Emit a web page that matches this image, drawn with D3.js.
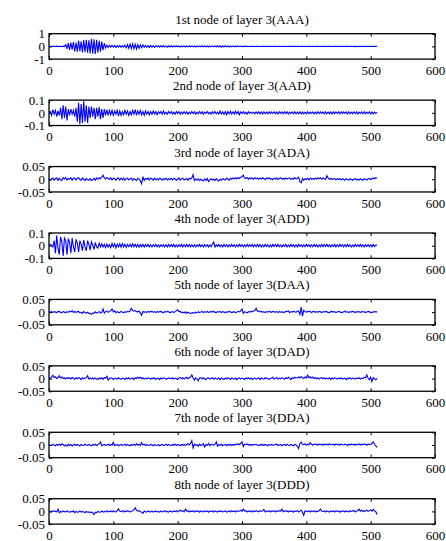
<!DOCTYPE html>
<html>
<head>
<meta charset="utf-8">
<script src="https://cdn.jsdelivr.net/npm/d3@7"></script>
<style>
  body { margin: 0; background: #fff; }
  svg { display: block; font-family: 'Liberation Serif', 'Times New Roman', serif; }
  .tick text { font-family: 'Liberation Serif', 'Times New Roman', serif; font-size: 13px; fill: #000; }
  .tick line { stroke: #000; }
  .domain { display: none; }
</style>
</head>
<body>
<div id="chart"></div>
<script>
// Panel titles
const titles = [
  '1st node of layer 3(AAA)', '2nd node of layer 3(AAD)',
  '3rd node of layer 3(ADA)', '4th node of layer 3(ADD)',
  '5th node of layer 3(DAA)', '6th node of layer 3(DAD)',
  '7th node of layer 3(DDA)', '8th node of layer 3(DDD)'
]

// Tick values and labels
const xTicks = [0, 100, 200, 300, 400, 500, 600]
const yTicks = [
  [-1, 0, 1], [-0.1, 0, 0.1], [-0.05, 0, 0.05], [-0.1, 0, 0.1],
  [-0.05, 0, 0.05], [-0.05, 0, 0.05], [-0.05, 0, 0.05], [-0.05, 0, 0.05]
]
const yTickLabels = [
  ['-1', '0', '1'], ['-0.1', '0', '0.1'], ['-0.05', '0', '0.05'], ['-0.1', '0', '0.1'],
  ['-0.05', '0', '0.05'], ['-0.05', '0', '0.05'], ['-0.05', '0', '0.05'], ['-0.05', '0', '0.05']
]

// Coefficients, read every 2nd sample (sample 0..510)
const sampleStep = 2

const aaa = [
  0,.01,-.01,0,.01,-.01,.02,-.01,0,.01,-.02,.02,-.01,.15,-.2,.25,
  -.28,.3,-.25,.35,-.4,.3,-.42,.45,-.38,.4,-.48,.5,-.45,.52,-.5,.48,
  -.55,.6,-.58,.55,-.6,.52,-.5,.45,-.42,.38,-.3,.25,-.12,.1,-.08,.07,
  -.06,.08,-.05,.07,-.09,.06,-.05,.08,-.07,.06,-.05,.1,-.12,.14,-.15,.18,
  -.16,.2,-.18,.17,-.2,.15,-.16,.12,-.1,.12,-.08,.09,-.07,.06,-.08,.07,
  -.06,.05,-.07,.06,-.05,.07,-.06,.05,-.04,.06,-.05,.04,-.06,.05,-.04,.05,
  -.05,.04,-.03,.05,-.04,.03,-.05,.04,-.03,.04,-.05,.03,-.04,.05,-.03,.04,
  -.04,.03,-.05,.04,-.03,.04,-.03,.05,-.04,.03,-.04,.03,-.05,.04,-.03,.04,
  -.03,.04,-.05,.06,-.04,.05,-.06,.04,-.05,.06,-.04,.03,-.05,.04,-.03,.04,
  -.04,.03,-.03,.04,-.02,.03,-.02,.02,-.01,.02,-.01,.01,-.02,.01,0,.01,
  -.01,.01,0,-.01,.01,-.01,0,.01,-.01,0,.01,-.01,.01,0,-.01,.01,
  0,-.01,.01,0,-.01,.01,-.01,0,.01,-.01,0,.01,0,-.01,.01,0,
  -.01,.01,0,-.01,.01,0,-.01,.01,-.01,0,.01,0,-.01,.01,0,-.01,
  .01,0,-.01,.01,-.01,0,.01,0,-.01,.01,0,-.01,.01,-.01,0,.01,
  -.01,0,.01,-.01,0,.01,-.01,.01,0,-.01,.01,0,-.01,.01,-.03,.03,
  -.02,.01,0,-.01,.01,0,-.01,.01,0,-.01,.01,0,-.01,.01,0,.01
]

const aad = [
  .005,.01,-.02,.025,-.01,.02,-.03,.015,-.02,.04,-.05,.06,-.04,.05,-.06,.03,
  -.02,.03,-.01,.02,-.03,.04,-.07,.08,-.09,.07,-.08,.09,-.07,.06,-.08,.05,
  -.04,.05,-.03,.04,-.05,.04,-.03,.045,-.05,.03,-.04,.03,-.02,.025,-.02,.02,
  -.015,.02,-.02,.015,-.01,.02,-.025,.015,-.02,.01,-.015,.02,-.01,.015,-.02,.01,
  -.015,.02,-.01,.025,-.02,.015,-.01,.02,-.015,.01,-.02,.015,-.01,.01,-.015,.01,
  -.01,.015,-.01,.01,-.015,.01,-.005,.01,-.01,.015,-.01,.005,-.01,.01,-.005,.01,
  -.01,.005,-.01,.01,-.005,.01,-.01,.005,-.008,.01,-.005,.008,-.01,.005,-.008,.01,
  -.005,.008,-.01,.005,-.008,.01,-.005,.008,-.01,.005,-.005,.01,-.008,.005,-.01,.008,
  -.005,.01,-.008,.005,-.01,.015,-.01,.008,-.012,.01,-.015,.01,-.008,.012,-.01,.008,
  -.01,.012,-.008,.01,-.015,.008,-.005,.01,-.008,.005,-.01,.008,-.005,.006,-.004,.005,
  -.007,.008,-.005,.009,-.008,.006,-.009,.008,-.006,.005,-.008,.009,-.006,.008,-.005,.007,
  -.008,.006,-.009,.008,-.005,.007,-.008,.009,-.006,.008,-.009,.006,-.005,.008,-.007,.009,
  -.008,.005,-.007,.008,-.009,.006,-.008,.005,-.007,.009,-.008,.006,-.005,.008,-.007,.005,
  -.008,.009,-.006,.008,-.005,.007,-.009,.008,-.006,.005,-.008,.007,-.009,.008,-.006,.008,
  -.005,.007,-.008,.009,-.006,.008,-.005,.007,-.009,.008,-.006,.005,-.008,.009,-.006,.008,
  -.009,.006,-.005,.008,-.007,.009,-.008,.006,-.005,.008,-.009,.006,-.008,.005,-.006,.003
]

const ada = [
  .003,-.004,.001,.005,-.003,.002,.006,-.004,.004,-.002,-.005,.006,.001,.007,-.003,.004,
  0,.006,-.004,.003,.005,-.003,.004,.006,-.001,-.004,.005,0,-.005,.003,-.002,-.004,
  .002,-.005,-.002,.004,-.004,.005,0,.006,.002,.008,.016,.005,.001,.007,.003,-.001,
  .006,-.003,.004,.002,-.004,.003,.005,-.003,.004,-.002,.005,-.004,.002,.004,-.003,.002,
  .004,-.004,.002,-.001,-.005,.003,.001,-.006,-.018,.010,-.005,.003,-.001,.005,-.003,.004,
  .002,-.004,.004,-.002,.003,-.003,.004,.001,-.004,.003,-.001,.004,-.003,.002,-.001,.004,
  -.003,.004,.001,-.004,0,.005,-.003,.002,.004,-.003,0,.003,-.004,.004,.001,.005,
  .018,-.005,.001,-.004,.002,-.005,0,-.004,-.006,.001,-.005,.003,-.009,-.002,.002,-.004,
  .001,-.005,.002,-.004,-.007,0,-.004,.003,-.001,-.003,.005,.001,-.004,.004,.001,.005,
  .002,.006,.001,.007,.003,.008,.010,.016,.005,.003,.007,0,.006,.002,.005,0,
  .006,.002,.005,-.001,.005,.001,.006,.002,-.001,.005,.002,.006,0,.003,-.002,.004,
  .001,.005,-.001,.003,.006,0,.004,-.001,.005,.001,.004,.005,-.001,.003,.001,.006,
  .002,.004,.008,-.010,-.014,.003,-.004,.002,-.001,.004,-.002,.005,0,.003,-.001,.005,
  .001,.005,.002,.006,0,.005,.002,-.001,.014,.004,0,.003,-.001,.002,.003,-.002,
  .002,-.001,.003,-.003,.002,-.001,-.004,.002,-.001,-.003,.002,-.001,-.004,0,.002,-.003,
  0,-.003,.002,-.001,-.004,.002,0,-.003,.002,.003,-.001,.002,.005,.002,.006,.004
]

const add = [
  .005,.01,.005,-.01,.04,-.06,.08,-.02,-.07,.07,.03,-.08,.06,.04,-.07,.05,
  .03,-.06,.06,-.01,-.05,.05,.02,-.05,.04,.01,-.04,.045,-.01,-.04,.04,.01,
  -.035,.03,.005,-.03,.025,-.01,-.02,.02,-.01,.015,-.01,.01,-.015,.012,-.01,.008,
  -.015,.018,-.008,.016,-.018,.012,-.01,.015,-.012,.016,-.01,.012,-.015,.01,-.008,.012,
  -.01,.014,-.008,.012,-.01,.009,-.012,.01,-.007,.01,-.011,.008,-.007,.01,-.009,.007,
  -.01,.008,-.007,.011,-.009,.007,-.01,.008,-.006,.009,-.01,.007,-.009,.01,-.007,.009,
  -.007,.01,-.009,.006,-.01,.008,-.006,.01,-.009,.007,-.008,.01,-.007,.009,-.01,.007,
  -.009,.007,-.01,.008,-.006,.01,-.008,.007,-.01,.009,-.006,.008,-.01,.007,-.008,.012,
  .03,-.01,.008,-.007,.01,-.008,.006,-.009,.01,-.007,.008,-.01,.007,-.008,.01,-.006,
  .008,-.01,.007,-.008,.01,-.006,.009,-.01,.007,-.008,.01,-.007,.008,-.006,.01,-.009,
  .007,-.008,.01,-.007,.009,-.01,.006,-.008,.01,-.007,.008,-.01,.007,-.009,.01,-.006,
  .009,-.007,.01,-.008,.006,-.01,.008,-.007,.01,-.009,.006,-.008,.01,-.007,.008,-.01,
  .007,-.009,.01,-.006,.008,-.01,.007,-.008,.01,-.006,.009,-.01,.007,-.008,.01,-.007,
  .008,-.01,.006,-.008,.01,-.007,.009,-.006,.01,-.008,.007,-.01,.008,-.006,.01,-.009,
  .007,-.008,.01,-.006,.009,-.01,.007,-.008,.01,-.007,.008,-.01,.006,-.008,.01,-.007,
  .008,-.006,.01,-.008,.007,-.01,.008,-.006,.009,-.008,.007,-.009,.01,-.007,.005,.003
]

const daa = [
  .002,-.001,.003,-.002,.002,0,-.002,.002,.003,-.001,-.002,.002,0,-.003,.002,-.001,
  .004,.001,.006,-.001,.003,-.002,.002,.003,-.003,0,-.005,.002,-.002,-.004,0,-.005,
  -.006,-.009,-.003,-.005,.001,-.004,-.001,.002,-.003,-.002,.012,-.004,.002,.004,-.001,.003,
  .006,.012,.001,.005,-.002,.002,-.001,-.002,.003,0,-.003,.002,-.001,.003,.001,.005,
  .015,.007,.004,.006,.002,.001,.004,-.004,-.012,.003,-.001,.002,-.002,.003,0,.002,
  .003,-.001,.002,-.002,.003,-.001,.002,.003,-.001,-.002,.002,0,.003,.001,-.002,0,
  .002,-.002,.003,.005,.009,.002,.003,-.002,0,-.004,.001,-.005,0,-.002,-.006,-.003,
  -.002,-.005,0,-.003,.002,-.002,0,.003,-.002,.002,-.001,.003,-.002,.002,0,.002,
  .003,-.001,-.002,.002,0,.003,-.002,.002,0,-.003,.002,-.001,.003,.001,-.002,0,
  .002,-.003,0,.003,.001,.005,.012,-.005,.002,-.001,-.003,.002,0,.003,.001,.005,
  .006,.015,.003,.005,.001,.003,-.001,.002,-.002,.002,0,.003,.001,-.001,.003,.001,
  0,.002,-.002,.003,-.001,.002,-.002,0,.002,.003,.005,-.002,.002,0,.003,.001,
  0,.003,.005,-.009,.020,-.016,.007,.003,-.001,.004,.001,.003,-.002,.002,.003,-.001,
  .002,-.001,.003,.001,-.002,.002,0,.003,.001,-.001,-.002,.002,.003,0,.002,-.002,
  0,.003,.001,-.001,-.002,.002,.005,-.001,.002,-.002,.002,0,.003,.001,-.002,.002,
  0,.002,-.002,.003,0,.002,-.002,0,.003,.001,-.001,-.002,.002,0,.002,0
]

const dad = [
  .003,.001,.006,.013,.004,.007,0,.004,.011,.002,.006,0,.003,-.002,.004,0,
  .003,-.002,.004,.001,-.003,.003,-.001,.004,.001,-.004,.003,-.001,.002,.003,.011,-.002,
  .002,-.002,.003,-.003,.002,-.001,-.004,.002,-.001,.003,-.003,.004,.001,.009,-.006,0,
  .003,.001,-.004,0,.002,-.003,.003,-.001,-.003,.002,0,-.004,.002,-.001,.003,-.002,
  -.001,.002,-.004,.003,0,.006,.001,.005,-.001,.003,-.002,.002,-.001,.003,.001,-.003,
  .002,-.001,.003,-.003,0,.002,-.004,.002,-.001,.003,.001,-.003,0,.003,.001,-.001,
  .003,-.002,.002,-.001,-.004,.002,.004,-.001,.003,-.002,.002,.005,-.001,.003,.006,.014,
  .003,-.006,.002,-.001,-.009,.002,.004,-.002,.003,-.001,-.005,.002,.003,-.002,0,.003,
  -.003,.002,-.001,-.002,.003,-.005,.002,-.001,-.004,.002,-.002,.003,0,-.004,.002,-.001,
  -.002,.002,-.004,.001,.003,-.002,.002,-.001,-.004,.002,-.001,.003,-.002,.002,-.004,0,
  .002,-.002,0,.003,-.004,.002,-.001,-.002,.003,0,.002,-.004,0,.002,.005,-.002,
  0,.003,-.002,.002,-.001,.003,.001,-.003,.003,0,.005,.001,-.004,.003,0,.005,
  .002,.003,.006,.002,.008,.003,.001,.006,.002,.014,.003,.007,.002,.006,0,.004,
  -.001,.003,-.002,.002,.004,-.001,.003,-.002,.002,-.001,.003,-.004,.002,-.001,.003,.001,
  -.002,.002,-.001,.003,-.002,0,.002,-.004,.002,-.001,.003,-.002,.002,0,-.002,.002,
  0,.003,-.002,.002,0,.005,.003,.014,.001,-.005,.006,-.012,.003,-.001,-.005,.001
]

const dda = [
  .002,-.001,-.002,.003,-.001,-.003,.002,-.001,.003,-.002,.005,.001,-.003,0,-.005,.003,
  -.002,.002,-.004,0,.003,-.002,.002,-.001,-.003,.002,-.001,-.002,.003,0,-.002,.002,
  -.001,-.003,.002,-.001,.003,-.002,.002,.005,.012,-.003,0,.002,-.002,0,.003,-.002,
  .002,-.001,.010,-.002,0,.002,-.003,0,.002,-.002,0,.003,-.002,.002,-.001,-.003,
  .002,-.001,.003,-.002,.005,-.001,.003,-.002,.009,0,.003,-.003,.002,-.001,-.002,.002,
  0,-.003,.002,-.001,-.002,.002,-.003,0,.002,-.002,0,.003,-.002,.002,-.001,-.002,
  .002,-.001,.003,-.002,.002,0,-.003,.002,-.001,.003,-.002,.002,.005,0,.006,.017,
  -.011,.003,-.001,.002,-.005,.003,-.002,0,.005,-.008,.002,-.001,.006,-.003,.003,.001,
  -.001,.003,.012,-.005,.002,-.001,.003,-.002,0,.002,-.003,.002,-.001,.003,-.002,.002,
  -.001,.003,.001,.005,.001,.006,.012,-.006,.003,.001,.004,-.001,.003,-.002,.002,-.001,
  .002,.003,-.001,-.002,.002,-.001,.003,-.002,.002,0,-.003,.002,-.001,.002,-.002,0,
  .002,.003,-.002,0,.002,-.003,0,.002,-.002,.003,-.001,-.002,.002,0,-.003,.002,
  0,-.005,-.014,.006,.011,.003,.001,.005,-.001,.003,.001,.009,.003,-.001,.004,.001,
  .003,-.001,.004,.001,.003,-.001,.004,.001,.003,0,.005,.002,.001,.003,-.001,.004,
  .001,.003,-.001,.004,.001,0,.003,.001,-.002,.003,0,.004,.001,.003,-.001,.003,
  .001,.004,0,.003,.001,.004,.002,-.001,.004,.001,.003,.006,.012,.003,-.004,-.009
]

const ddd = [
  .002,-.001,-.002,.003,-.001,.002,-.002,.009,-.005,0,-.003,.002,-.001,-.002,.002,-.001,
  -.003,0,-.002,.002,-.005,0,-.003,-.002,.002,-.003,0,-.002,-.005,0,-.003,-.002,
  -.005,-.002,-.006,-.012,-.003,-.005,0,-.003,-.002,.002,-.003,0,-.002,.003,-.002,0,
  .002,-.002,.003,-.001,-.002,.003,.010,.001,-.001,.003,-.002,.002,-.001,.003,.001,-.002,
  0,.003,.006,.015,.004,.001,.003,-.001,-.003,-.008,.002,-.001,-.003,.002,-.001,-.002,
  .002,-.003,0,.002,-.002,0,-.003,.002,-.002,0,.003,-.002,0,-.003,.002,-.001,
  -.002,.002,-.001,.003,-.002,.002,.005,0,.003,-.002,.009,.001,.003,-.002,.002,-.001,
  .003,-.002,.002,-.001,.003,-.003,.002,0,-.002,.003,-.001,.002,-.003,.002,-.001,.003,
  -.002,.002,0,-.003,.002,-.001,.003,-.002,0,.002,-.003,0,.002,-.002,.003,-.001,
  .002,-.002,.003,0,.002,.005,0,.009,.001,.003,-.002,.002,-.001,.003,-.002,.002,
  -.001,.003,.001,-.002,.003,0,.002,.008,-.002,.002,-.001,.003,-.002,.002,0,.003,
  -.002,.002,0,.003,.001,.009,-.002,.003,0,.002,-.002,.003,-.001,.002,-.003,.002,
  0,.003,-.002,.002,.005,-.003,-.015,.003,.001,-.001,.003,-.002,.002,-.001,.003,-.002,
  .002,-.001,.003,.009,.001,-.001,.003,-.002,.002,0,-.003,.002,-.001,.003,-.002,.002,
  0,.002,-.003,.002,-.001,.003,-.002,.002,0,-.002,.003,0,.002,.003,-.002,.002,
  .003,.009,.001,.005,-.001,.003,.001,.005,0,.003,.006,.001,.008,.002,-.001,-.012
]

const series = [aaa, aad, ada, add, daa, dad, dda, ddd]

// Layout
const w = 446
const h = 541
const left = 49
const right = 435
const firstTop = 33.7
const step = 66.43
const panelH = 25.4
const tick = 3

const svg = d3.select('#chart')
  .append('svg')
  .attr('width', w)
  .attr('height', h)

const xScale = d3.scaleLinear()
  .domain([0, 600])
  .range([left, right])

series.forEach((values, k) => {
  const top = firstTop + k * step
  const bottom = top + panelH
  const ticks = yTicks[k]
  const labels = yTickLabels[k]

  const yScale = d3.scaleLinear()
    .domain([ticks[0], ticks[2]])
    .range([bottom, top])

  const g = svg.append('g')

  // Title
  g.append('text')
    .attr('x', (left + right) / 2)
    .attr('y', top - 10)
    .attr('text-anchor', 'middle')
    .attr('font-size', 13)
    .text(titles[k])

  // Signal
  const line = d3.line()
    .x((_, i) => xScale(i * sampleStep))
    .y(d => yScale(d))

  g.append('path')
    .datum(values)
    .attr('d', line)
    .attr('fill', 'none')
    .attr('stroke', '#0000ff')
    .attr('stroke-width', 1.1)

  // Axes, ticks pointing inward
  g.append('g')
    .attr('transform', `translate(0, ${bottom})`)
    .call(d3.axisBottom(xScale).tickValues(xTicks).tickSize(-tick).tickPadding(6.5).tickFormat(d3.format('d')))

  g.append('g')
    .attr('transform', `translate(0, ${top})`)
    .call(d3.axisTop(xScale).tickValues(xTicks).tickSize(-tick).tickFormat(''))

  g.append('g')
    .attr('transform', `translate(${left}, 0)`)
    .call(d3.axisLeft(yScale).tickValues(ticks).tickSize(-tick).tickPadding(4).tickFormat((_, i) => labels[i]))

  g.append('g')
    .attr('transform', `translate(${right}, 0)`)
    .call(d3.axisRight(yScale).tickValues(ticks).tickSize(-tick).tickFormat(''))

  // Box
  g.append('rect')
    .attr('x', left)
    .attr('y', top)
    .attr('width', right - left)
    .attr('height', panelH)
    .attr('fill', 'none')
    .attr('stroke', '#000')
    .attr('stroke-width', 1.3)
})
</script>
</body>
</html>
